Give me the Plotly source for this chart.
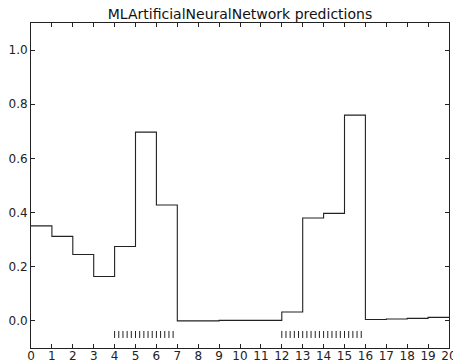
import plotly.graph_objects as go

# Predicted value for each unit interval [i, i+1)
interval_starts = list(range(20))
predictions = [0.351, 0.312, 0.245, 0.164, 0.275, 0.697, 0.428, 0.0, 0.0, 0.002,
               0.002, 0.002, 0.033, 0.380, 0.397, 0.760, 0.005, 0.007, 0.0095, 0.013]

# Positions of observed samples shown as a rug below the curve
rug_x = [4.0, 4.2, 4.4, 4.6, 4.8, 5.0, 5.2, 5.4, 5.6, 5.8, 6.0, 6.2, 6.4, 6.6, 6.8,
         12.0, 12.2, 12.4, 12.6, 12.8, 13.0, 13.2, 13.4, 13.6, 13.8,
         14.0, 14.2, 14.4, 14.6, 14.8, 15.0, 15.2, 15.4, 15.6, 15.8]
rug_level = -0.05

x_ticks = list(range(21))
y_ticks = [0.0, 0.2, 0.4, 0.6, 0.8, 1.0]

step_x = interval_starts + [interval_starts[-1] + 1]
step_y = predictions + [predictions[-1]]

fig = go.Figure()
fig.add_trace(go.Scatter(
    x=step_x, y=step_y, mode="lines", line_shape="hv",
    line=dict(color="#222222", width=1.1), hoverinfo="skip"))
fig.add_trace(go.Scatter(
    x=rug_x, y=[rug_level] * len(rug_x), mode="markers",
    marker=dict(symbol="line-ns", size=5, line=dict(color="#222222", width=1)),
    hoverinfo="skip"))

axis_font = dict(family="DejaVu Sans", size=12, color="#222222")
fig.update_layout(
    width=453, height=363,
    margin=dict(l=31, r=4, t=23, b=15),
    paper_bgcolor="white", plot_bgcolor="white",
    showlegend=False,
    title=dict(text="MLArtificialNeuralNetwork predictions",
               x=(31 + 449) / 2 / 453, xanchor="center",
               y=1 - 14 / 363, yanchor="middle",
               font=dict(family="DejaVu Sans", size=14, color="#111111")),
    xaxis=dict(range=[0, 20], tickvals=x_ticks, ticktext=[str(v) for v in x_ticks],
               showgrid=False, zeroline=False, showline=True, linecolor="#222222",
               linewidth=1, mirror="ticks", ticks="inside", ticklen=4,
               tickcolor="#222222", tickfont=axis_font, ticklabelstandoff=-3,
               ticklabeloverflow="allow", automargin=False),
    yaxis=dict(range=[-0.1, 1.1], tickvals=y_ticks,
               ticktext=[f"{v:.1f}" for v in y_ticks],
               showgrid=False, zeroline=False, showline=True, linecolor="#222222",
               linewidth=1, mirror="ticks", ticks="inside", ticklen=4,
               tickcolor="#222222", tickfont=axis_font,
               ticklabeloverflow="allow", automargin=False),
)

fig.write_html("out.html")
